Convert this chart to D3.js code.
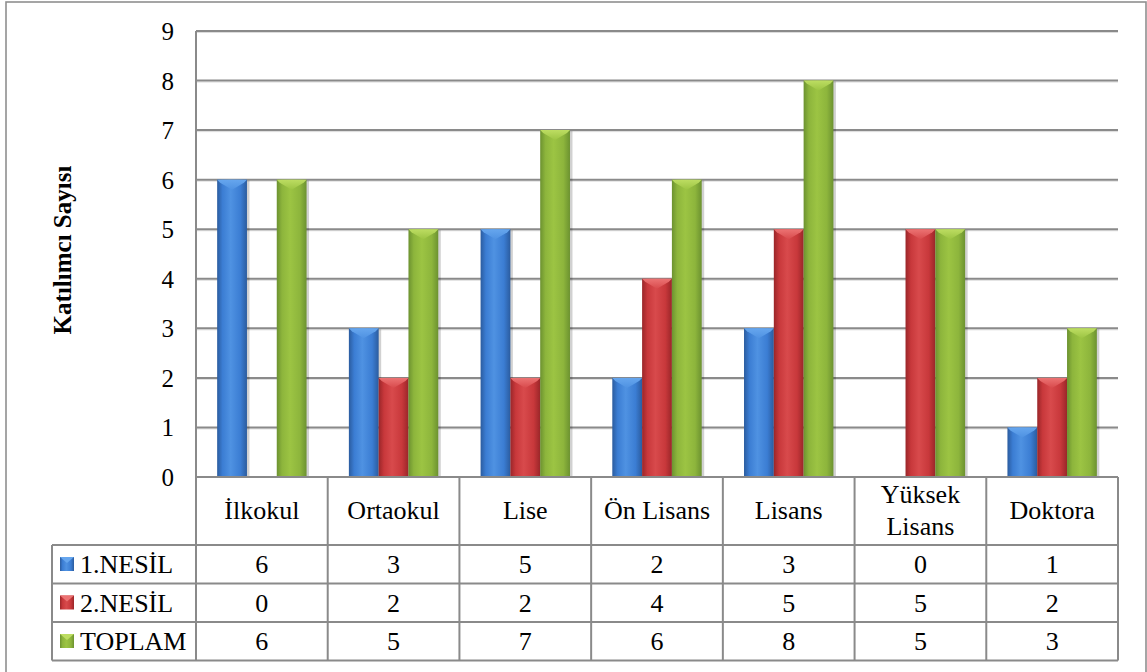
<!DOCTYPE html>
<html>
<head>
<meta charset="utf-8">
<script src="https://cdn.jsdelivr.net/npm/d3@7"></script>
</head>
<body style="margin:0">
<svg id="chart" width="1147" height="672"></svg>
<script>
// ---- data ----
const categories = ["İlkokul", "Ortaokul", "Lise", "Ön Lisans", "Lisans", "Yüksek Lisans", "Doktora"];
const seriesNames = ["1.NESİL", "2.NESİL", "TOPLAM"];
const nesil1 = [6, 3, 5, 2, 3, 0, 1];
const nesil2 = [0, 2, 2, 4, 5, 5, 2];
const toplam = [6, 5, 7, 6, 8, 5, 3];
const yTicks = [0, 1, 2, 3, 4, 5, 6, 7, 8, 9];
const yTitle = "Katılımcı Sayısı";

const seriesValues = [nesil1, nesil2, toplam];
const palette = [
  { dark: "#2b5c9f", main: "#3b7dd3", light: "#4f92e2", top: "#66a6ee" },
  { dark: "#9a2629", main: "#c8383b", light: "#d84a4c", top: "#ec7373" },
  { dark: "#6c9230", main: "#8db53c", light: "#9cc443", top: "#bddd62" }
];
const FONT = `"Liberation Serif", "Times New Roman", "Tinos", "FreeSerif", monospace`;

const svg = d3.select("#chart");
const plotL = 196, plotR = 1118, plotT = 31, plotB = 477;
const rowCat = 545, rowH = 38.5;
const legendL = 52;
const gridColor = "#8a8a8a";

function label(sel) {
  return sel.style("font-family", FONT).attr("font-family", FONT).attr("fill", "#000");
}

// outer frame
svg.append("rect").attr("x", 6).attr("y", 2).attr("width", 1140).attr("height", 690)
  .attr("fill", "#fff").attr("stroke", "#8f8f8f").attr("stroke-width", 1.6);

// gradients
const defs = svg.append("defs");
palette.forEach((p, i) => {
  const g = defs.append("linearGradient").attr("id", "g" + i)
    .attr("x1", "0%").attr("x2", "100%").attr("y1", "0%").attr("y2", "0%");
  g.append("stop").attr("offset", "0%").attr("stop-color", p.dark);
  g.append("stop").attr("offset", "18%").attr("stop-color", p.main);
  g.append("stop").attr("offset", "45%").attr("stop-color", p.light);
  g.append("stop").attr("offset", "78%").attr("stop-color", p.main);
  g.append("stop").attr("offset", "100%").attr("stop-color", p.dark);
  const t = defs.append("linearGradient").attr("id", "t" + i)
    .attr("x1", "0%").attr("x2", "0%").attr("y1", "0%").attr("y2", "100%");
  t.append("stop").attr("offset", "0%").attr("stop-color", p.top);
  t.append("stop").attr("offset", "100%").attr("stop-color", p.light);
});

// scales
const x = d3.scaleBand().domain(categories).range([plotL, plotR]).padding(0);
const xs = d3.scaleBand().domain(seriesNames).range([0, x.bandwidth()]).paddingInner(0).paddingOuter(0.71);
const y = d3.scaleLinear().domain([0, 9]).range([plotB, plotT]);

// gridlines
const grid = svg.append("g");
yTicks.filter(t => t > 0).forEach(t => {
  grid.append("line").attr("x1", plotL).attr("x2", plotR).attr("y1", y(t) + 1.5).attr("y2", y(t) + 1.5)
    .attr("stroke", "#dcdcdc").attr("stroke-width", 1);
  grid.append("line").attr("x1", plotL).attr("x2", plotR).attr("y1", y(t)).attr("y2", y(t))
    .attr("stroke", gridColor).attr("stroke-width", 2);
});

// y axis via d3 axis (labels only)
const yAxis = d3.axisLeft(y).tickValues(yTicks).tickSize(0).tickPadding(0).tickFormat(d3.format("d"));
const ya = svg.append("g").attr("transform", `translate(174,0)`).call(yAxis);
ya.attr("font-family", null).attr("font-size", null);
ya.select(".domain").remove();
label(ya.selectAll("text")).attr("font-size", 25).attr("dy", "0.34em");

// y title
label(svg.append("text")).attr("transform", `translate(71,250) rotate(-90)`).attr("text-anchor", "middle")
  .attr("font-size", 25).attr("font-weight", "bold").text(yTitle);

// bars
const bars = svg.append("g");
seriesNames.forEach((s, si) => {
  categories.forEach((c, ci) => {
    const v = seriesValues[si][ci];
    if (v <= 0) return;
    const x0 = x(c) + xs(s), bw = xs.bandwidth();
    const y0 = y(v), y1 = y(0);
    const g = bars.append("g");
    // soft shadow on the right
    g.append("rect").attr("x", x0 + 1).attr("y", y0 + 1).attr("width", bw + 1.5).attr("height", y1 - y0 - 1)
      .attr("fill", "#000").attr("opacity", 0.18);
    g.append("rect").attr("x", x0).attr("y", y0).attr("width", bw).attr("height", y1 - y0)
      .attr("fill", `url(#g${si})`);
    const bev = Math.min(10, (y1 - y0) / 2);
    g.append("path")
      .attr("d", `M${x0},${y0} L${x0 + bw},${y0} L${x0 + bw - 3},${y0 + 3} L${x0 + bw / 2},${y0 + bev} L${x0 + 3},${y0 + 3} Z`)
      .attr("fill", `url(#t${si})`);
  });
});

// plot left border
svg.append("line").attr("x1", plotL).attr("x2", plotL).attr("y1", plotT).attr("y2", plotB)
  .attr("stroke", gridColor).attr("stroke-width", 2);

// table
const tbl = svg.append("g");
const tableB = rowCat + rowH * 3;
tbl.append("line").attr("x1", plotL).attr("x2", plotR).attr("y1", plotB).attr("y2", plotB).attr("stroke", gridColor).attr("stroke-width", 2.2);
[0, 1, 2, 3].forEach(r => {
  tbl.append("line").attr("x1", legendL).attr("x2", plotR).attr("y1", rowCat + r * rowH).attr("y2", rowCat + r * rowH)
    .attr("stroke", gridColor).attr("stroke-width", 2);
});
categories.forEach(c => {
  tbl.append("line").attr("x1", x(c)).attr("x2", x(c)).attr("y1", plotB).attr("y2", tableB).attr("stroke", gridColor).attr("stroke-width", 2);
});
tbl.append("line").attr("x1", plotR).attr("x2", plotR).attr("y1", plotB).attr("y2", tableB).attr("stroke", gridColor).attr("stroke-width", 2);
tbl.append("line").attr("x1", legendL).attr("x2", legendL).attr("y1", rowCat).attr("y2", tableB).attr("stroke", gridColor).attr("stroke-width", 2);

// category labels
categories.forEach(c => {
  const words = c === "Yüksek Lisans" ? ["Yüksek", "Lisans"] : [c];
  const cx = x(c) + x.bandwidth() / 2;
  const t = label(tbl.append("text")).attr("x", cx).attr("text-anchor", "middle").attr("font-size", 26);
  if (words.length === 1) {
    t.attr("y", 519).text(c);
  } else {
    t.append("tspan").attr("x", cx).attr("y", 503).text(words[0]);
    t.append("tspan").attr("x", cx).attr("y", 535).text(words[1]);
  }
});

// rows
seriesNames.forEach((s, si) => {
  const rowTop = rowCat + si * rowH;
  const base = rowTop + 28;
  const kx = 60, ky = rowTop + 12, ks = 14;
  tbl.append("rect").attr("x", kx).attr("y", ky).attr("width", ks).attr("height", ks).attr("fill", `url(#g${si})`);
  tbl.append("path").attr("d", `M${kx},${ky} L${kx + ks},${ky} L${kx + ks / 2},${ky + 6} Z`).attr("fill", palette[si].top);
  label(tbl.append("text")).attr("x", 80).attr("y", base).attr("font-size", 26).text(s);
  categories.forEach((c, ci) => {
    label(tbl.append("text")).attr("x", x(c) + x.bandwidth() / 2).attr("y", base).attr("text-anchor", "middle")
      .attr("font-size", 26).text(seriesValues[si][ci]);
  });
});
</script>
</body>
</html>
